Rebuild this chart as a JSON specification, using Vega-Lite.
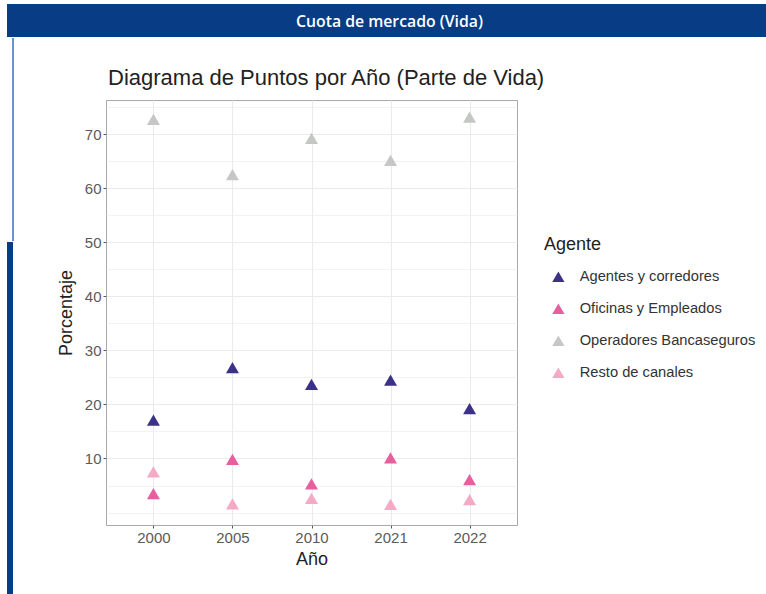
{
  "$schema": "https://vega.github.io/schema/vega-lite/v6.json",
  "padding": {"left": 7, "top": 4, "right": 0, "bottom": 0},
  "background": "white",
  "config": {
    "view": {"stroke": null},
    "font": "Liberation Sans"
  },
  "spacing": 0,
  "resolve": {"scale": {"color": "independent"}, "legend": {"color": "independent"}},
  "vconcat": [
    {
      "width": 759,
      "height": 33,
      "view": {"fill": "#083c84", "stroke": null},
      "data": {"values": [{"t": "Cuota de mercado (Vida)"}]},
      "mark": {"type": "text", "color": "white", "font": "Open Sans", "fontWeight": 600, "fontSize": 15.8, "dy": 1, "dx": 3},
      "encoding": {"text": {"field": "t", "type": "nominal"}}
    },
    {
      "spacing": 42,
      "resolve": {"scale": {"color": "independent"}, "legend": {"color": "independent"}},
      "hconcat": [
        {
          "spacing": 0,
          "vconcat": [
            {
              "width": 6,
              "height": 203,
              "data": {"values": [{}]},
              "mark": {"type": "rule", "color": "#3a6cc2", "strokeWidth": 1.5},
              "encoding": {"x": {"datum": 1, "type": "quantitative", "scale": {"domain": [0, 1]}, "axis": null}}
            },
            {
              "width": 6,
              "height": 354,
              "view": {"fill": "#083c84", "stroke": null},
              "data": {"values": []},
              "mark": "point"
            }
          ]
        },
        {
          "spacing": 0,
          "resolve": {"scale": {"color": "independent"}, "legend": {"color": "independent"}},
          "vconcat": [
            {
              "width": 1,
              "height": 28,
              "data": {"values": []},
              "mark": "point"
            },
            {
              "width": 411,
              "height": 425,
              "view": {"stroke": "#a8a8a8", "strokeWidth": 1},
              "title": {
                "text": "Diagrama de Puntos por Año (Parte de Vida)",
                "anchor": "start",
                "frame": "group",
                "fontSize": 22,
                "fontWeight": "normal",
                "color": "#222222",
                "offset": 10,
                "dx": 2
              },
              "data": {
                "values": [
                  {"anio": "2000", "agente": "Agentes y corredores", "pct": 17.0},
                  {"anio": "2005", "agente": "Agentes y corredores", "pct": 26.7},
                  {"anio": "2010", "agente": "Agentes y corredores", "pct": 23.6},
                  {"anio": "2021", "agente": "Agentes y corredores", "pct": 24.4},
                  {"anio": "2022", "agente": "Agentes y corredores", "pct": 19.1},
                  {"anio": "2000", "agente": "Oficinas y Empleados", "pct": 3.4},
                  {"anio": "2005", "agente": "Oficinas y Empleados", "pct": 9.7},
                  {"anio": "2010", "agente": "Oficinas y Empleados", "pct": 5.2},
                  {"anio": "2021", "agente": "Oficinas y Empleados", "pct": 10.0},
                  {"anio": "2022", "agente": "Oficinas y Empleados", "pct": 6.0},
                  {"anio": "2000", "agente": "Operadores Bancaseguros", "pct": 72.6},
                  {"anio": "2005", "agente": "Operadores Bancaseguros", "pct": 62.4},
                  {"anio": "2010", "agente": "Operadores Bancaseguros", "pct": 69.1},
                  {"anio": "2021", "agente": "Operadores Bancaseguros", "pct": 65.0},
                  {"anio": "2022", "agente": "Operadores Bancaseguros", "pct": 73.0},
                  {"anio": "2000", "agente": "Resto de canales", "pct": 7.4},
                  {"anio": "2005", "agente": "Resto de canales", "pct": 1.5},
                  {"anio": "2010", "agente": "Resto de canales", "pct": 2.5},
                  {"anio": "2021", "agente": "Resto de canales", "pct": 1.4},
                  {"anio": "2022", "agente": "Resto de canales", "pct": 2.3}
                ]
              },
              "mark": {
                "type": "point",
                "filled": true,
                "opacity": 1,
                "size": 169,
                "shape": "M-1,0.77L1,0.77L0,-0.96Z"
              },
              "encoding": {
                "x": {
                  "field": "anio",
                  "type": "nominal",
                  "sort": ["2000", "2005", "2010", "2021", "2022"],
                  "scale": {"type": "point", "padding": 0.6},
                  "axis": {
                    "title": "Año",
                    "titleFontSize": 18,
                    "titleFontWeight": "normal",
                    "titleColor": "#222222",
                    "titlePadding": 5,
                    "labelAngle": 0,
                    "labelFontSize": 15,
                    "labelColor": "#5a5a5a",
                    "labelPadding": 2,
                    "tickSize": 3,
                    "tickColor": "#5a5a5a",
                    "domain": false,
                    "grid": true,
                    "gridColor": "#ebebeb",
                    "gridWidth": 1.1
                  }
                },
                "y": {
                  "field": "pct",
                  "type": "quantitative",
                  "scale": {"domain": [-2.3, 76.3], "nice": false, "zero": false},
                  "axis": {
                    "title": "Porcentaje",
                    "titleFontSize": 18,
                    "titleFontWeight": "normal",
                    "titleColor": "#222222",
                    "titlePadding": 9,
                    "values": [0, 5, 10, 15, 20, 25, 30, 35, 40, 45, 50, 55, 60, 65, 70, 75],
                    "labelExpr": "datum.value % 10 === 0 && datum.value > 0 ? datum.label : ''",
                    "labelOverlap": false,
                    "labelFontSize": 15,
                    "labelColor": "#5a5a5a",
                    "labelPadding": 2,
                    "tickSize": 3,
                    "tickColor": "#5a5a5a",
                    "tickOpacity": {"condition": {"test": "datum.value % 10 === 0 && datum.value > 0", "value": 1}, "value": 0},
                    "domain": false,
                    "grid": true,
                    "gridColor": "#ebebeb",
                    "gridWidth": {"condition": {"test": "datum.value % 10 === 0 && datum.value > 0", "value": 1.1}, "value": 0.6}
                  }
                },
                "color": {
                  "field": "agente",
                  "type": "nominal",
                  "scale": {
                    "domain": ["Agentes y corredores", "Oficinas y Empleados", "Operadores Bancaseguros", "Resto de canales"],
                    "range": ["#3b3288", "#e75f9e", "#c5c7c5", "#f4a9c5"]
                  },
                  "legend": {
                    "title": "Agente",
                    "orient": "none",
                    "legendX": 438,
                    "legendY": 136,
                    "titleFontSize": 18,
                    "titleFontWeight": "normal",
                    "titleColor": "#222222",
                    "titlePadding": 16,
                    "labelFontSize": 14.7,
                    "labelColor": "#333333",
                    "labelLimit": 260,
                    "symbolType": "M-1,0.77L1,0.77L0,-0.96Z",
                    "symbolSize": 150,
                    "symbolStrokeWidth": 0,
                    "symbolOffset": 7,
                    "labelOffset": 14,
                    "rowPadding": 16,
                    "padding": 0
                  }
                }
              }
            }
          ]
        }
      ]
    }
  ]
}
